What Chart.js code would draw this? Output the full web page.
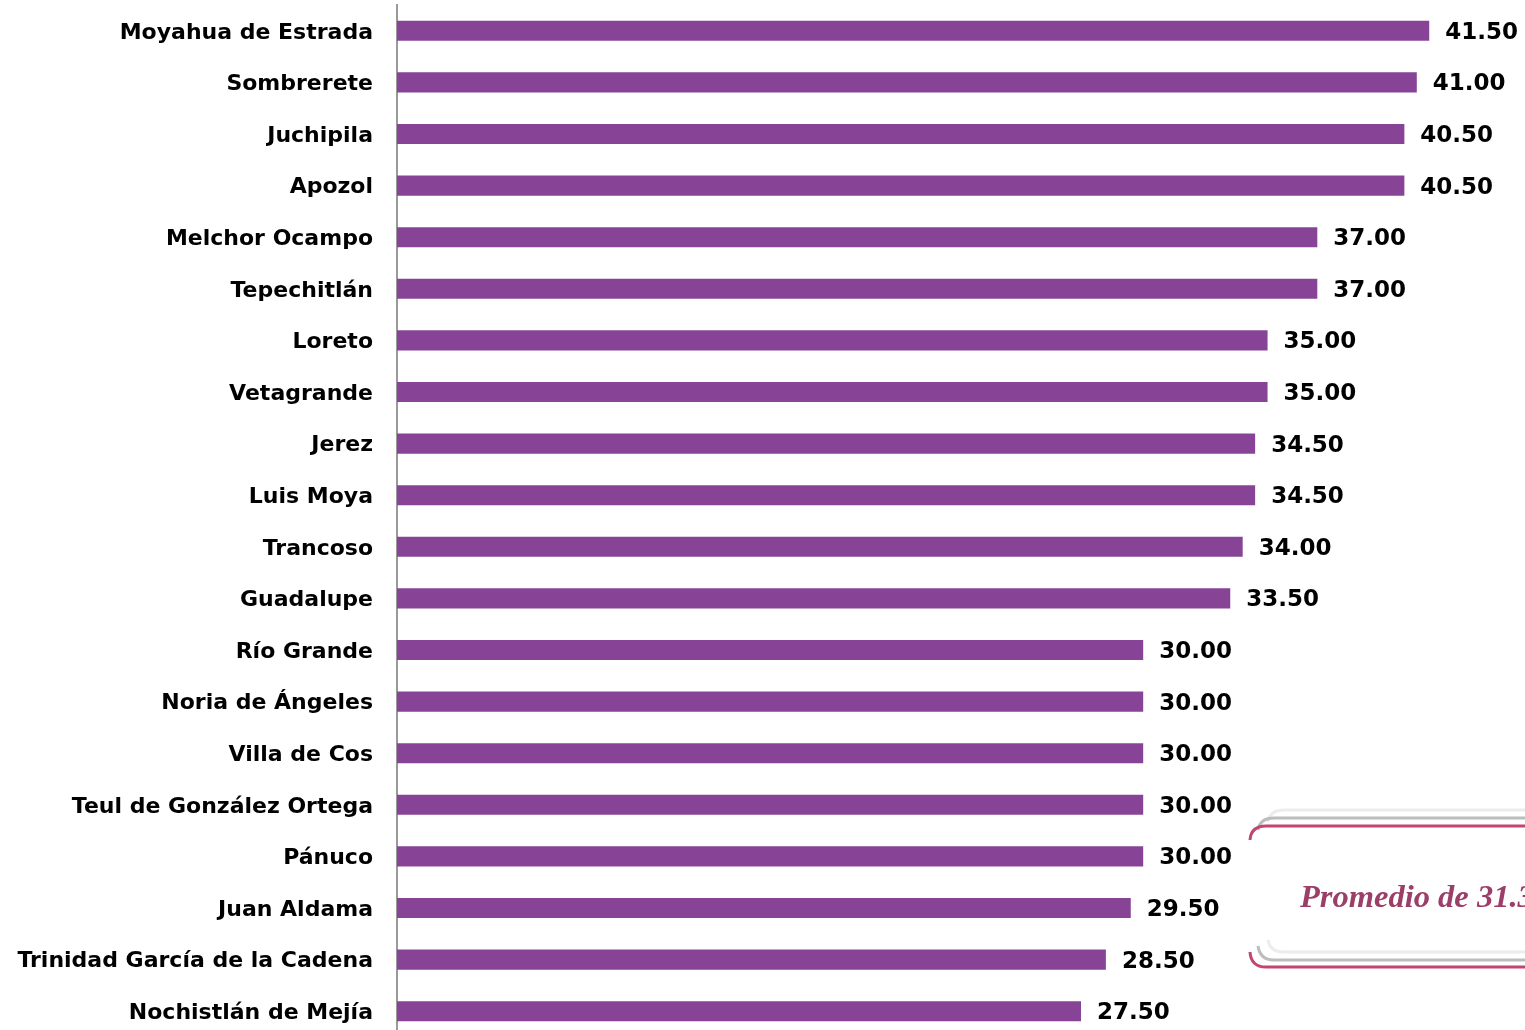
<!DOCTYPE html>
<html>
<head>
<meta charset="utf-8">
<script src="https://cdn.jsdelivr.net/npm/chart.js@4"></script>
<style>
  html, body { margin: 0; padding: 0; background: #fff; overflow: hidden; }
  #wrap { width: 1525px; height: 1040px; position: relative; }
</style>
</head>
<body>
<div id="wrap"><canvas id="chart"></canvas></div>
<script>
// municipios y valores
const municipios = [
  "Moyahua de Estrada", "Sombrerete", "Juchipila", "Apozol", "Melchor Ocampo",
  "Tepechitlán", "Loreto", "Vetagrande", "Jerez", "Luis Moya", "Trancoso",
  "Guadalupe", "Río Grande", "Noria de Ángeles", "Villa de Cos",
  "Teul de González Ortega", "Pánuco", "Juan Aldama",
  "Trinidad García de la Cadena", "Nochistlán de Mejía"
];
const valores = [41.5, 41.0, 40.5, 40.5, 37.0, 37.0, 35.0, 35.0, 34.5, 34.5, 34.0,
  33.5, 30.0, 30.0, 30.0, 30.0, 30.0, 29.5, 28.5, 27.5];
const promedioTexto = "Promedio de 31.3";

const FONT = "'DejaVu Sans', sans-serif";

// etiquetas de valor al final de cada barra
const valueLabels = {
  id: "valueLabels",
  afterDatasetsDraw(chart) {
    const ctx = chart.ctx;
    const meta = chart.getDatasetMeta(0);
    ctx.save();
    ctx.font = "bold 23px " + FONT;
    ctx.fillStyle = "#000";
    ctx.textAlign = "left";
    ctx.textBaseline = "middle";
    meta.data.forEach((bar, i) => {
      ctx.fillText(valores[i].toFixed(2), bar.x + 16, bar.y + 2);
    });
    ctx.restore();
  }
};

// recuadro del promedio
const promedioBox = {
  id: "promedioBox",
  afterDraw(chart) {
    const ctx = chart.ctx;
    const W = chart.width;
    ctx.save();
    ctx.lineWidth = 3;
    // gris claro
    ctx.strokeStyle = "#ececec";
    ctx.beginPath();
    ctx.moveTo(1268, 822); ctx.quadraticCurveTo(1270, 810, 1284, 810); ctx.lineTo(W, 810);
    ctx.moveTo(1268, 940); ctx.quadraticCurveTo(1270, 952, 1284, 952); ctx.lineTo(W, 952);
    ctx.stroke();
    // gris
    ctx.strokeStyle = "#bdbdbd";
    ctx.beginPath();
    ctx.moveTo(1258, 830); ctx.quadraticCurveTo(1260, 818, 1274, 818); ctx.lineTo(W, 818);
    ctx.moveTo(1258, 946); ctx.quadraticCurveTo(1260, 960, 1274, 960); ctx.lineTo(W, 960);
    ctx.stroke();
    // rosa
    ctx.strokeStyle = "#c2466f";
    ctx.beginPath();
    ctx.moveTo(1250, 840); ctx.quadraticCurveTo(1251, 826, 1266, 826); ctx.lineTo(W, 826);
    ctx.moveTo(1250, 952); ctx.quadraticCurveTo(1251, 967, 1266, 967); ctx.lineTo(W, 967);
    ctx.stroke();
    ctx.font = "italic bold 32.5px 'Liberation Serif', serif";
    ctx.fillStyle = "#9c3f68";
    ctx.textAlign = "left";
    ctx.textBaseline = "alphabetic";
    ctx.fillText(promedioTexto, 1300, 907);
    ctx.restore();
  }
};

new Chart(document.getElementById("chart"), {
  type: "bar",
  data: {
    labels: municipios,
    datasets: [{
      data: valores,
      backgroundColor: "#874496",
      borderWidth: 0,
      barPercentage: 0.78,
      categoryPercentage: 0.5
    }]
  },
  options: {
    indexAxis: "y",
    responsive: true,
    maintainAspectRatio: false,
    animation: false,
    layout: { padding: { top: 5, bottom: 3, left: 0, right: 0 } },
    plugins: { legend: { display: false }, tooltip: { enabled: false } },
    scales: {
      x: {
        display: false,
        min: 0,
        max: 45.35
      },
      y: {
        afterFit(scale) {
          scale.width = 397;
          scale.paddingTop = 0;
          scale.paddingBottom = 0;
        },
        grid: { display: false, drawTicks: false },
        border: { display: true, color: "#9a9a9a", width: 2 },
        ticks: {
          padding: 24,
          labelOffset: 2,
          color: "#000",
          font: { family: FONT, size: 22, weight: "bold" }
        }
      }
    }
  },
  plugins: [valueLabels, promedioBox]
});
</script>
</body>
</html>
